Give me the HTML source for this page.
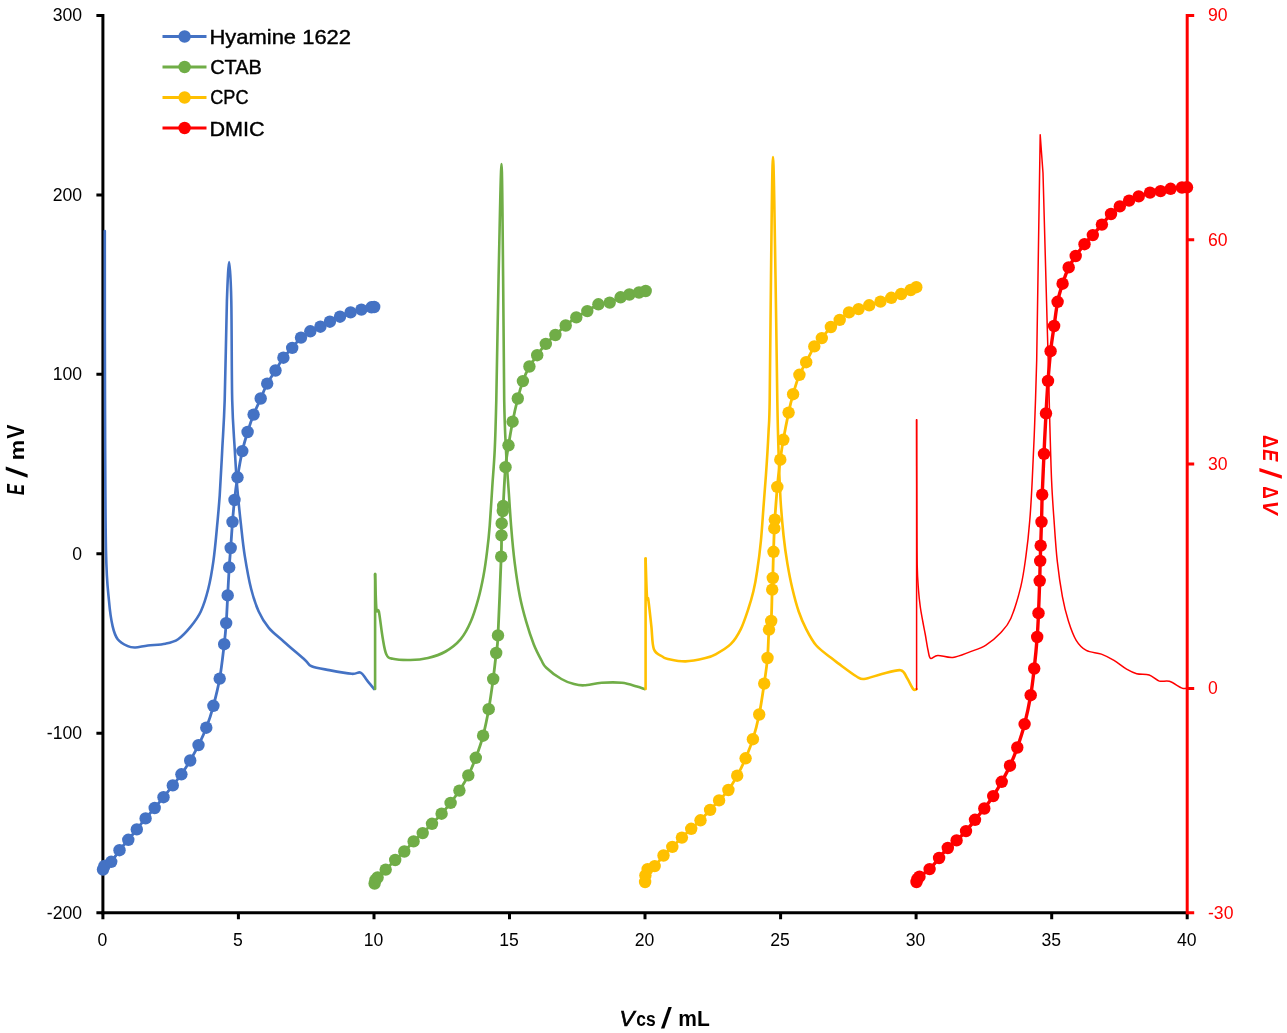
<!DOCTYPE html>
<html lang="en"><head><meta charset="utf-8"><title>Potentiometric titration curves</title>
<style>html,body{margin:0;padding:0;background:#fff}body{width:1287px;height:1033px;overflow:hidden}svg{display:block}text{font-family:"Liberation Sans",Arial,sans-serif}.tk{font-size:17.6px;fill:#000}.tr{font-size:17.6px;fill:#FF0000}.lg{font-size:19.8px;fill:#000}.ln{fill:none;stroke-linejoin:round;stroke-linecap:round}</style></head><body>
<svg width="1287" height="1033" viewBox="0 0 1287 1033">
<rect width="1287" height="1033" fill="#fff"/>
<g stroke="#000" stroke-width="3" fill="none">
<path d="M102.9 13.9V914.2"/>
<path d="M101.4 912.7H1187.2"/>
<path d="M96.4 15.4H102.9M96.4 194.9H102.9M96.4 374.3H102.9M96.4 553.8H102.9M96.4 733.2H102.9M96.4 912.7H102.9M102.9 912.7V919.2M238.4 912.7V919.2M374 912.7V919.2M509.5 912.7V919.2M645 912.7V919.2M780.6 912.7V919.2M916.1 912.7V919.2M1051.7 912.7V919.2M1187.2 912.7V919.2"/>
</g>
<g id="hyamine">
<path class="ln" d="M104.8 231C104.8 259.2 104.8 346.7 105 400C105.2 453.3 105.3 517.5 106 551C106.7 584.5 107.9 588.4 109 601C110.1 613.6 111.2 620.2 112.7 626.6C114.2 633 115.2 635.9 117.7 639.2C120.2 642.5 124.9 644.8 127.8 646.2C130.7 647.6 132 647.6 135.3 647.5C138.7 647.4 142.9 646.1 147.9 645.5C152.9 644.9 160.5 644.8 165.5 643.7C170.5 642.7 173.9 642.1 178.1 639.2C182.3 636.4 186.9 631.2 190.7 626.6C194.5 622 197.9 617.8 200.8 611.5C203.7 605.2 206.2 597.2 208.3 588.8C210.4 580.4 211.9 571.6 213.4 561.1C214.9 550.6 216.1 536.8 217.1 525.9C218.1 515 218.8 508.3 219.7 495.7C220.5 483.1 221.4 466.3 222.2 450.4C223 434.4 223.9 424.9 224.7 400C225.5 375.1 226.2 324 226.9 301C227.7 278 228.5 262 229.2 262C229.9 262 230.8 278 231.3 301C231.8 324 231.6 375.1 232.2 400C232.8 424.9 234 435.7 234.8 450.4C235.7 465.1 236.2 475.5 237.3 488.1C238.4 500.7 239.8 514.6 241.1 525.9C242.3 537.2 243.1 545.6 244.8 556.1C246.5 566.6 248.8 579.6 251.1 588.8C253.4 598 255.8 605 258.7 611.5C261.6 618 264.6 622.8 268.8 627.8C273 632.8 277.9 636.3 283.9 641.7C289.9 647.1 300.4 655.9 305 660C309.6 664.1 307.6 664.6 311.6 666.3C315.6 668 322.5 668.9 329.2 670.1C335.9 671.4 346.6 673.4 351.8 673.8C357 674.2 358.1 671.5 360.6 672.6C363.1 673.7 364.7 677.4 366.9 680.1C369.1 682.8 372.8 687.5 374 689" stroke="#4472C4" stroke-width="2.6"/>
<path class="ln" d="M103 869.5C103.2 868.9 103.1 867.3 104.5 866C105.9 864.7 108.7 864.4 111.2 861.8C113.7 859.2 116.7 853.9 119.5 850.2C122.3 846.5 125.4 843.3 128.3 839.8C131.2 836.3 133.9 833 136.8 829.4C139.7 825.8 142.6 822 145.6 818.4C148.6 814.8 151.7 811.5 154.7 808C157.7 804.5 160.5 801 163.5 797.2C166.5 793.4 169.8 789.2 172.8 785.4C175.8 781.6 178.5 778.4 181.4 774.3C184.3 770.1 187.3 765.4 190.2 760.5C193 755.6 195.8 750.6 198.5 745.1C201.2 739.6 203.8 734.2 206.3 727.7C208.8 721.2 211.2 714 213.4 705.8C215.6 697.6 217.9 688.9 219.7 678.6C221.5 668.3 223.1 653.5 224.2 644.2C225.3 635 225.6 631.2 226.2 623.1C226.8 615 227.2 604.7 227.7 595.4C228.2 586.1 228.7 575.3 229.2 567.4C229.7 559.5 230.1 555.6 230.7 548C231.2 540.4 231.9 529.9 232.5 521.9C233.1 513.9 233.7 507.4 234.5 500C235.3 492.6 236.2 485.4 237.5 477.3C238.8 469.2 240.6 458.7 242.3 451.1C244 443.6 245.7 438.1 247.6 432C249.5 425.9 251.4 420.2 253.6 414.6C255.8 409 258.4 403.7 260.7 398.5C263 393.3 264.7 388.3 267.2 383.6C269.7 378.9 272.8 374.8 275.5 370.5C278.2 366.2 280.6 361.5 283.4 357.7C286.2 353.9 289.3 351.2 292.2 347.9C295.1 344.5 298 340.4 301 337.6C304 334.8 307.1 333.1 310.3 331.3C313.5 329.5 317.1 328.3 320.4 326.7C323.7 325.1 326.6 323.4 329.9 321.7C333.2 320 336.6 318.2 340 316.7C343.4 315.1 347 313.6 350.6 312.4C354.2 311.2 357.9 310.5 361.4 309.6C364.9 308.8 369.4 307.7 371.5 307.3C373.6 306.9 373.8 307.1 374.2 307" stroke="#4472C4" stroke-width="2.8"/>
<g fill="#4472C4"><circle cx="103" cy="869.5" r="6.2"/><circle cx="104.5" cy="866" r="6.2"/><circle cx="111.2" cy="861.8" r="6.2"/><circle cx="119.5" cy="850.2" r="6.2"/><circle cx="128.3" cy="839.8" r="6.2"/><circle cx="136.8" cy="829.4" r="6.2"/><circle cx="145.6" cy="818.4" r="6.2"/><circle cx="154.7" cy="808" r="6.2"/><circle cx="163.5" cy="797.2" r="6.2"/><circle cx="172.8" cy="785.4" r="6.2"/><circle cx="181.4" cy="774.3" r="6.2"/><circle cx="190.2" cy="760.5" r="6.2"/><circle cx="198.5" cy="745.1" r="6.2"/><circle cx="206.3" cy="727.7" r="6.2"/><circle cx="213.4" cy="705.8" r="6.2"/><circle cx="219.7" cy="678.6" r="6.2"/><circle cx="224.2" cy="644.2" r="6.2"/><circle cx="226.2" cy="623.1" r="6.2"/><circle cx="227.7" cy="595.4" r="6.2"/><circle cx="229.2" cy="567.4" r="6.2"/><circle cx="230.7" cy="548" r="6.2"/><circle cx="232.5" cy="521.9" r="6.2"/><circle cx="234.5" cy="500" r="6.2"/><circle cx="237.5" cy="477.3" r="6.2"/><circle cx="242.3" cy="451.1" r="6.2"/><circle cx="247.6" cy="432" r="6.2"/><circle cx="253.6" cy="414.6" r="6.2"/><circle cx="260.7" cy="398.5" r="6.2"/><circle cx="267.2" cy="383.6" r="6.2"/><circle cx="275.5" cy="370.5" r="6.2"/><circle cx="283.4" cy="357.7" r="6.2"/><circle cx="292.2" cy="347.9" r="6.2"/><circle cx="301" cy="337.6" r="6.2"/><circle cx="310.3" cy="331.3" r="6.2"/><circle cx="320.4" cy="326.7" r="6.2"/><circle cx="329.9" cy="321.7" r="6.2"/><circle cx="340" cy="316.7" r="6.2"/><circle cx="350.6" cy="312.4" r="6.2"/><circle cx="361.4" cy="309.6" r="6.2"/><circle cx="371.5" cy="307.3" r="6.2"/><circle cx="374.2" cy="307" r="6.2"/></g>
</g>
<g id="ctab">
<path class="ln" d="M375.1 689L375.1 574" stroke="#70AD47" stroke-width="2.6"/>
<path class="ln" d="M375.1 574C375.3 579.8 375.8 602.8 376.4 609C377 615.2 377.8 606.7 378.9 611.5C379.9 616.3 381.4 630.8 382.7 638C383.9 645.2 384.7 651 386.4 654.5C388.1 658 388.7 657.9 392.7 658.8C396.7 659.7 404.5 660.1 410.4 660C416.3 659.9 422.1 659.4 428 658C433.9 656.6 440.2 654.6 445.6 651.5C451.1 648.4 456.5 644.2 460.7 639.2C464.9 634.2 467.9 628.3 470.8 621.6C473.7 614.9 476.2 606.5 478.3 598.9C480.4 591.3 481.9 584.2 483.4 576.2C484.9 568.2 486.1 559.5 487.1 551.1C488.2 542.7 488.9 536.4 489.7 525.9C490.5 515.4 491.4 500.7 492.2 488.1C493 475.5 494 465.1 494.7 450.4C495.4 435.7 495.6 429.1 496.3 400C497 370.9 497.7 315.3 498.6 276C499.5 236.7 500.8 164 501.5 164C502.2 164 502.7 236.7 503.1 276C503.6 315.3 503.7 370.9 504.2 400C504.7 429.1 505.3 435.7 506 450.4C506.7 465.1 507.6 475.5 508.5 488.1C509.4 500.7 510.1 513.3 511.1 525.9C512.1 538.5 513.3 551.9 514.8 563.6C516.3 575.4 518 586.7 519.9 596.4C521.8 606.1 523.9 613.6 526.2 621.6C528.5 629.6 531.2 637.8 533.7 644.2C536.2 650.6 539.2 656.1 541.3 660C543.4 663.9 542.9 664.5 546.3 667.7C549.6 670.9 556.8 676.3 561.4 679C566 681.7 570.2 683.1 574 684.1C577.8 685.1 579.5 685.5 584.1 685.3C588.7 685.1 595.4 683.2 601.7 682.8C608 682.4 615.9 682.2 621.8 682.8C627.7 683.4 633.1 685.5 636.9 686.6C640.7 687.7 643.2 688.7 644.5 689.1" stroke="#70AD47" stroke-width="2.6"/>
<path class="ln" d="M374.6 883.5C374.8 882.9 375 881 375.5 880C376 879 375.9 879.2 377.6 877.5C379.3 875.8 382.8 872.5 385.7 869.6C388.6 866.7 392.1 863 395.2 860C398.3 857 401.2 854.6 404.3 851.5C407.4 848.4 410.5 844.5 413.6 841.4C416.7 838.3 419.6 836 422.7 833.1C425.8 830.2 428.9 827 432 823.8C435.1 820.6 438.5 817.2 441.6 813.7C444.7 810.2 447.6 806.8 450.6 802.9C453.6 799 456.4 795.2 459.4 790.6C462.3 786 465.6 780.9 468.3 775.4C471 769.9 473.3 764.4 475.8 757.8C478.3 751.2 481 743.8 483.1 735.7C485.2 727.6 487 718.7 488.7 709.2C490.4 699.8 491.9 688.4 493.2 679C494.4 669.6 495.4 660.3 496.2 653C497 645.7 497.2 651.5 498 635.4C498.8 619.3 500.6 573.3 501.2 556.6C501.8 539.9 501.4 540.9 501.5 535.4C501.6 529.9 501.5 527.5 501.7 523.4C501.9 519.3 502.6 513.9 502.8 511C503.1 508.1 502.8 513.3 503.2 506C503.6 498.7 504.6 477.3 505.5 467.2C506.4 457.1 507.3 452.9 508.5 445.3C509.7 437.7 511.1 429.5 512.6 421.7C514.1 413.9 516.1 405.3 517.8 398.5C519.5 391.7 521 386.4 522.9 381.1C524.8 375.8 527 370.8 529.4 366.5C531.8 362.2 534.5 359 537.2 355.2C539.9 351.4 542.8 347.3 545.8 343.9C548.8 340.5 552.1 338.1 555.4 335C558.7 331.9 562.2 328.4 565.7 325.5C569.2 322.6 572.7 319.8 576.3 317.4C579.9 315 583.6 313.3 587.3 311.1C591 308.9 594.7 305.7 598.4 304.3C602.1 302.9 606 303.8 609.7 302.6C613.4 301.4 617.3 298.7 620.6 297.3C623.9 295.9 626.3 295.3 629.4 294.5C632.5 293.7 636.3 293.1 639 292.5C641.7 291.9 644.6 291.2 645.7 291" stroke="#70AD47" stroke-width="2.8"/>
<g fill="#70AD47"><circle cx="374.6" cy="883.5" r="6.2"/><circle cx="375.5" cy="880" r="6.2"/><circle cx="377.6" cy="877.5" r="6.2"/><circle cx="385.7" cy="869.6" r="6.2"/><circle cx="395.2" cy="860" r="6.2"/><circle cx="404.3" cy="851.5" r="6.2"/><circle cx="413.6" cy="841.4" r="6.2"/><circle cx="422.7" cy="833.1" r="6.2"/><circle cx="432" cy="823.8" r="6.2"/><circle cx="441.6" cy="813.7" r="6.2"/><circle cx="450.6" cy="802.9" r="6.2"/><circle cx="459.4" cy="790.6" r="6.2"/><circle cx="468.3" cy="775.4" r="6.2"/><circle cx="475.8" cy="757.8" r="6.2"/><circle cx="483.1" cy="735.7" r="6.2"/><circle cx="488.7" cy="709.2" r="6.2"/><circle cx="493.2" cy="679" r="6.2"/><circle cx="496.2" cy="653" r="6.2"/><circle cx="498" cy="635.4" r="6.2"/><circle cx="501.2" cy="556.6" r="6.2"/><circle cx="501.5" cy="535.4" r="6.2"/><circle cx="501.7" cy="523.4" r="6.2"/><circle cx="502.8" cy="511" r="6.2"/><circle cx="503.2" cy="506" r="6.2"/><circle cx="505.5" cy="467.2" r="6.2"/><circle cx="508.5" cy="445.3" r="6.2"/><circle cx="512.6" cy="421.7" r="6.2"/><circle cx="517.8" cy="398.5" r="6.2"/><circle cx="522.9" cy="381.1" r="6.2"/><circle cx="529.4" cy="366.5" r="6.2"/><circle cx="537.2" cy="355.2" r="6.2"/><circle cx="545.8" cy="343.9" r="6.2"/><circle cx="555.4" cy="335" r="6.2"/><circle cx="565.7" cy="325.5" r="6.2"/><circle cx="576.3" cy="317.4" r="6.2"/><circle cx="587.3" cy="311.1" r="6.2"/><circle cx="598.4" cy="304.3" r="6.2"/><circle cx="609.7" cy="302.6" r="6.2"/><circle cx="620.6" cy="297.3" r="6.2"/><circle cx="629.4" cy="294.5" r="6.2"/><circle cx="639" cy="292.5" r="6.2"/><circle cx="645.7" cy="291" r="6.2"/></g>
</g>
<g id="cpc">
<path class="ln" d="M645.6 689L645.6 558.6" stroke="#FFC000" stroke-width="2.6"/>
<path class="ln" d="M645.6 558.6C645.8 565 646.5 590.2 647 597C647.5 603.8 647.6 594.6 648.3 599.5C649 604.4 650.5 618.3 651.4 626.6C652.3 634.9 652 644.2 653.9 649.2C655.8 654.2 660.4 655.2 662.7 656.8C665 658.4 664 658.1 667.8 658.9C671.6 659.7 679.1 661.5 685.4 661.4C691.7 661.3 700.5 659.3 705.5 658.1C710.5 656.9 711.4 656.6 715.6 654.3C719.8 652 726.5 648.4 730.7 644.2C734.9 640 737.9 635 740.8 629.1C743.7 623.2 746.2 615.3 748.3 609C750.4 602.7 751.9 597.6 753.4 591.3C754.9 585 755.9 579.6 757.1 571.2C758.4 562.8 759.9 551.5 760.9 541C761.9 530.5 762.6 519.2 763.4 508.3C764.2 497.4 765 488.1 765.9 475.5C766.8 462.9 767.9 445.3 768.5 432.7C769.1 420.1 769.3 426.1 769.7 400C770.1 373.9 770.5 316.5 771 276C771.5 235.5 772.2 157 773 157C773.8 157 774.8 235.5 775.5 276C776.2 316.5 776.8 370.9 777.3 400C777.8 429.1 778 433.6 778.5 450.4C779 467.2 779.8 486.4 780.6 500.7C781.5 515 782.5 525.5 783.6 536C784.7 546.5 785.9 554.8 787.4 563.6C788.9 572.4 790.5 580.8 792.4 588.8C794.3 596.8 796.4 604.8 798.7 611.5C801 618.2 803.3 623.4 806.2 629.1C809.1 634.8 812.1 640.7 816.3 645.5C820.5 650.3 827.6 655 831.4 658.1C835.2 661.2 834.8 660.8 839 663.9C843.2 667 852.4 674 856.6 676.5C860.8 679 859.9 679.4 864.1 679C868.3 678.6 875.7 675.5 881.8 674C887.9 672.5 896.4 669.6 900.6 670.2C904.8 670.8 904.8 674.6 906.9 677.8C909 680.9 911.6 687.2 913.2 689.1C914.8 691 916 689.1 916.5 689.1" stroke="#FFC000" stroke-width="2.6"/>
<path class="ln" d="M645.1 882C645.1 880.9 645 877.5 645.4 875.4C645.8 873.2 646 870.6 647.6 869.1C649.2 867.6 652.1 868.4 654.7 866.1C657.4 863.8 660.6 858.7 663.5 855.5C666.4 852.3 669.2 849.9 672.3 846.9C675.4 843.9 678.8 840.6 681.9 837.6C685 834.6 688.1 831.7 691.2 828.8C694.3 825.9 697.4 823.4 700.5 820.3C703.6 817.1 707 813.2 710.1 809.9C713.2 806.6 716.1 803.7 719.1 800.4C722.1 797.1 725.4 794.1 728.4 790C731.4 785.9 734.3 781 737.2 775.7C740.1 770.4 743 764.4 745.6 758.3C748.2 752.2 750.6 746.5 752.9 739.2C755.2 731.9 757.3 723.8 759.2 714.5C761.1 705.2 762.8 693 764.2 683.6C765.6 674.2 766.7 667 767.5 658C768.3 649 768.4 635.8 769 629.6C769.6 623.4 770.7 627.7 771.2 621C771.7 614.3 771.9 596.8 772.2 589.6C772.5 582.4 772.6 584.3 772.8 578C773 571.7 773.2 560.1 773.5 551.8C773.8 543.5 774.1 533.8 774.3 528.4C774.5 523 774.3 526.5 774.8 519.6C775.3 512.7 776.4 496.9 777.3 486.9C778.2 476.9 779.3 467.5 780.3 459.7C781.3 451.9 781.9 447.6 783.3 439.8C784.7 432 787 420.2 788.6 412.6C790.2 405 791.3 400.5 793.1 394.2C794.9 387.9 797.2 380.1 799.4 374.8C801.6 369.5 803.7 366.9 806.2 362.2C808.7 357.5 811.7 350.4 814.3 346.4C816.9 342.4 819 341.3 821.8 338.1C824.6 334.9 827.9 330 830.9 327C833.9 324 836.7 322.3 839.7 319.9C842.7 317.5 845.9 314.2 849 312.4C852.1 310.6 855.2 310.3 858.6 309.1C862 307.9 865.6 306.6 869.2 305.3C872.9 304.1 876.8 302.9 880.5 301.6C884.2 300.4 887.8 299.1 891.3 297.8C894.8 296.5 898 295.3 901.2 294C904.4 292.7 908.2 291.1 910.7 290C913.2 288.9 915.4 287.7 916.3 287.2" stroke="#FFC000" stroke-width="2.8"/>
<g fill="#FFC000"><circle cx="645.1" cy="882" r="6.2"/><circle cx="645.4" cy="875.4" r="6.2"/><circle cx="647.6" cy="869.1" r="6.2"/><circle cx="654.7" cy="866.1" r="6.2"/><circle cx="663.5" cy="855.5" r="6.2"/><circle cx="672.3" cy="846.9" r="6.2"/><circle cx="681.9" cy="837.6" r="6.2"/><circle cx="691.2" cy="828.8" r="6.2"/><circle cx="700.5" cy="820.3" r="6.2"/><circle cx="710.1" cy="809.9" r="6.2"/><circle cx="719.1" cy="800.4" r="6.2"/><circle cx="728.4" cy="790" r="6.2"/><circle cx="737.2" cy="775.7" r="6.2"/><circle cx="745.6" cy="758.3" r="6.2"/><circle cx="752.9" cy="739.2" r="6.2"/><circle cx="759.2" cy="714.5" r="6.2"/><circle cx="764.2" cy="683.6" r="6.2"/><circle cx="767.5" cy="658" r="6.2"/><circle cx="769" cy="629.6" r="6.2"/><circle cx="771.2" cy="621" r="6.2"/><circle cx="772.2" cy="589.6" r="6.2"/><circle cx="772.8" cy="578" r="6.2"/><circle cx="773.5" cy="551.8" r="6.2"/><circle cx="774.3" cy="528.4" r="6.2"/><circle cx="774.8" cy="519.6" r="6.2"/><circle cx="777.3" cy="486.9" r="6.2"/><circle cx="780.3" cy="459.7" r="6.2"/><circle cx="783.3" cy="439.8" r="6.2"/><circle cx="788.6" cy="412.6" r="6.2"/><circle cx="793.1" cy="394.2" r="6.2"/><circle cx="799.4" cy="374.8" r="6.2"/><circle cx="806.2" cy="362.2" r="6.2"/><circle cx="814.3" cy="346.4" r="6.2"/><circle cx="821.8" cy="338.1" r="6.2"/><circle cx="830.9" cy="327" r="6.2"/><circle cx="839.7" cy="319.9" r="6.2"/><circle cx="849" cy="312.4" r="6.2"/><circle cx="858.6" cy="309.1" r="6.2"/><circle cx="869.2" cy="305.3" r="6.2"/><circle cx="880.5" cy="301.6" r="6.2"/><circle cx="891.3" cy="297.8" r="6.2"/><circle cx="901.2" cy="294" r="6.2"/><circle cx="910.7" cy="290" r="6.2"/><circle cx="916.3" cy="287.2" r="6.2"/></g>
</g>
<g id="dmic">
<path class="ln" d="M916.6 689.4L916.6 419.7" stroke="#FF0000" stroke-width="1.5"/>
<path class="ln" d="M916.6 419.7C916.6 433.1 916.7 475.8 916.8 500C916.9 524.2 916.9 550 917.2 565C917.5 580 918 583 918.5 590C919 597 919.6 601.8 920.3 607C921 612.2 921.9 616.5 922.7 621C923.5 625.5 924.3 629.2 925.2 634C926.1 638.8 927.1 645.9 928 650C928.9 654.1 929 657.5 930.6 658.4C932.2 659.3 934.1 655.6 937.8 655.4C941.5 655.2 947.4 658 952.9 657.4C958.4 656.8 965 653.6 970.5 651.6C976 649.6 980.6 648.4 985.6 645.3C990.6 642.1 996.5 637.2 1000.7 632.7C1004.9 628.2 1007.4 626.2 1010.8 618.5C1014.1 610.8 1018.3 597 1020.8 586.6C1023.3 576.2 1024.4 567.3 1025.9 556.4C1027.4 545.5 1028.7 533.7 1029.7 521.1C1030.8 508.5 1031.4 497.2 1032.2 480.8C1033 464.4 1034 443 1034.7 422.9C1035.5 402.8 1036.4 370.5 1036.7 360L1040.2 134.7L1043 173L1047.3 329L1048.5 370C1048.7 378.8 1049.3 404.4 1049.8 422.9C1050.3 441.4 1050.9 464.4 1051.6 480.8C1052.3 497.2 1053.1 507.7 1054.1 521.1C1055 534.5 1055.9 548.8 1057.3 561.4C1058.7 574 1060.6 586.8 1062.4 596.7C1064.2 606.6 1066.1 613.7 1068.4 621C1070.7 628.3 1073.2 635.4 1076.2 640.3C1079.2 645.2 1082.1 648.1 1086.3 650.4C1090.5 652.7 1096.8 652.4 1101.4 654.1C1106 655.8 1109.8 657.9 1114 660.4C1118.2 662.9 1122.8 667 1126.6 669.2C1130.4 671.4 1132.9 672.8 1136.7 673.8C1140.5 674.8 1145.4 673.8 1149.2 675C1153 676.2 1155.9 680.1 1159.3 681.1C1162.7 682.1 1165.6 680.1 1169.4 681.3C1173.2 682.5 1179.1 687 1182 688.1C1184.9 689.2 1186.2 688.1 1187 688.1" stroke="#FF0000" stroke-width="1.5" stroke-linejoin="miter"/>
<path class="ln" d="M916.5 882C916.7 881.5 917 879.9 917.5 879C918 878.1 917.5 878.4 919.5 876.7C921.5 875.1 926.3 872.2 929.6 869.1C932.9 866 936.1 861.5 939.1 858C942.1 854.5 944.9 850.9 947.8 848C950.7 845.1 953.6 843.2 956.6 840.4C959.6 837.6 962.9 834.5 966 831.1C969.1 827.7 972 823.6 975 819.8C978 816 981.3 812.5 984.3 808.5C987.3 804.5 990.3 800.6 993.2 796.1C996.1 791.6 998.9 786.9 1001.7 781.8C1004.5 776.7 1007.4 771.4 1010 765.7C1012.6 760 1014.9 754.4 1017.3 747.5C1019.7 740.6 1022.4 732.8 1024.6 724.1C1026.8 715.4 1029.1 704.5 1030.7 695.2C1032.3 685.9 1033.1 678.2 1034.2 668.5C1035.3 658.8 1036.5 646.2 1037.2 637C1037.9 627.8 1038.1 622.6 1038.5 613.2C1038.9 603.8 1039.4 589.5 1039.7 580.8C1040 572.1 1040 566.8 1040.2 560.9C1040.4 555 1040.5 552.1 1040.7 545.6C1040.9 539.1 1041.2 530.4 1041.5 521.9C1041.8 513.4 1041.8 506 1042.2 494.7C1042.6 483.4 1043.4 467.4 1044 453.9C1044.6 440.3 1045.3 425.6 1046 413.4C1046.7 401.2 1047.2 391.3 1048 380.9C1048.8 370.5 1049.6 360.3 1050.6 351.2C1051.6 342.1 1052.9 334.2 1054.1 326C1055.3 317.8 1056.2 308.9 1057.6 301.8C1059 294.8 1060.8 289.4 1062.6 283.7C1064.4 278 1066.5 272 1068.7 267.4C1070.9 262.8 1073.1 259.9 1075.7 256C1078.3 252.1 1081.7 247.7 1084.5 244.2C1087.3 240.7 1089.9 238.4 1092.8 235.1C1095.7 231.8 1098.9 228.1 1101.9 224.6C1104.9 221.1 1108 217 1111 214C1114 211 1116.8 208.6 1119.8 206.4C1122.8 204.2 1125.9 202.3 1129.1 200.6C1132.2 198.9 1135.2 197.7 1138.7 196.4C1142.2 195.1 1146.3 193.5 1150 192.6C1153.7 191.7 1157.2 191.7 1160.6 191.1C1164 190.5 1167 189.4 1170.6 188.8C1174.2 188.2 1179.3 187.8 1182 187.5C1184.7 187.2 1186.2 187.3 1187 187.3" stroke="#FF0000" stroke-width="3.4"/>
<g fill="#FF0000"><circle cx="916.5" cy="882" r="6.2"/><circle cx="917.5" cy="879" r="6.2"/><circle cx="919.5" cy="876.7" r="6.2"/><circle cx="929.6" cy="869.1" r="6.2"/><circle cx="939.1" cy="858" r="6.2"/><circle cx="947.8" cy="848" r="6.2"/><circle cx="956.6" cy="840.4" r="6.2"/><circle cx="966" cy="831.1" r="6.2"/><circle cx="975" cy="819.8" r="6.2"/><circle cx="984.3" cy="808.5" r="6.2"/><circle cx="993.2" cy="796.1" r="6.2"/><circle cx="1001.7" cy="781.8" r="6.2"/><circle cx="1010" cy="765.7" r="6.2"/><circle cx="1017.3" cy="747.5" r="6.2"/><circle cx="1024.6" cy="724.1" r="6.2"/><circle cx="1030.7" cy="695.2" r="6.2"/><circle cx="1034.2" cy="668.5" r="6.2"/><circle cx="1037.2" cy="637" r="6.2"/><circle cx="1038.5" cy="613.2" r="6.2"/><circle cx="1039.7" cy="580.8" r="6.2"/><circle cx="1040.2" cy="560.9" r="6.2"/><circle cx="1040.7" cy="545.6" r="6.2"/><circle cx="1041.5" cy="521.9" r="6.2"/><circle cx="1042.2" cy="494.7" r="6.2"/><circle cx="1044" cy="453.9" r="6.2"/><circle cx="1046" cy="413.4" r="6.2"/><circle cx="1048" cy="380.9" r="6.2"/><circle cx="1050.6" cy="351.2" r="6.2"/><circle cx="1054.1" cy="326" r="6.2"/><circle cx="1057.6" cy="301.8" r="6.2"/><circle cx="1062.6" cy="283.7" r="6.2"/><circle cx="1068.7" cy="267.4" r="6.2"/><circle cx="1075.7" cy="256" r="6.2"/><circle cx="1084.5" cy="244.2" r="6.2"/><circle cx="1092.8" cy="235.1" r="6.2"/><circle cx="1101.9" cy="224.6" r="6.2"/><circle cx="1111" cy="214" r="6.2"/><circle cx="1119.8" cy="206.4" r="6.2"/><circle cx="1129.1" cy="200.6" r="6.2"/><circle cx="1138.7" cy="196.4" r="6.2"/><circle cx="1150" cy="192.6" r="6.2"/><circle cx="1160.6" cy="191.1" r="6.2"/><circle cx="1170.6" cy="188.8" r="6.2"/><circle cx="1182" cy="187.5" r="6.2"/><circle cx="1187" cy="187.3" r="6.2"/></g>
</g>
<g stroke="#FF0000" stroke-width="3" fill="none">
<path d="M1187.2 13.9V914.2"/>
<path d="M1187.2 15.4H1194.2M1187.2 239.7H1194.2M1187.2 464.1H1194.2M1187.2 688.4H1194.2M1187.2 912.7H1194.2"/>
</g>
<text class="tk" x="82" y="21.3" text-anchor="end">300</text>
<text class="tk" x="82" y="200.8" text-anchor="end">200</text>
<text class="tk" x="82" y="380.2" text-anchor="end">100</text>
<text class="tk" x="82" y="559.7" text-anchor="end">0</text>
<text class="tk" x="82" y="739.1" text-anchor="end">-100</text>
<text class="tk" x="82" y="918.6" text-anchor="end">-200</text>
<text class="tk" x="102.4" y="946.3" text-anchor="middle">0</text>
<text class="tk" x="237.9" y="946.3" text-anchor="middle">5</text>
<text class="tk" x="373.5" y="946.3" text-anchor="middle">10</text>
<text class="tk" x="509" y="946.3" text-anchor="middle">15</text>
<text class="tk" x="644.5" y="946.3" text-anchor="middle">20</text>
<text class="tk" x="780.1" y="946.3" text-anchor="middle">25</text>
<text class="tk" x="915.6" y="946.3" text-anchor="middle">30</text>
<text class="tk" x="1051.2" y="946.3" text-anchor="middle">35</text>
<text class="tk" x="1186.7" y="946.3" text-anchor="middle">40</text>
<text class="tr" x="1208" y="21.3">90</text>
<text class="tr" x="1208" y="245.6">60</text>
<text class="tr" x="1208" y="469.9">30</text>
<text class="tr" x="1208" y="694.3">0</text>
<text class="tr" x="1208" y="918.6">-30</text>
<text transform="translate(619.48 1025.80) scale(0.2246 0.2290)" font-size="100" font-weight="normal" font-style="italic" fill="#000" stroke="#000" stroke-width="3">V</text>
<text transform="translate(636.20 1025.69) scale(0.1748 0.2073)" font-size="100" font-weight="bold" font-style="normal" fill="#000">cs</text>
<text transform="translate(660.85 1028.21) scale(0.2905 0.2905) skewX(-8.85)" font-size="100" font-weight="bold" font-style="normal" fill="#000">/</text>
<text transform="translate(678.23 1025.80) scale(0.2100 0.2232)" font-size="100" font-weight="bold" font-style="normal" fill="#000">mL</text>
<text transform="translate(24.00 495.03) rotate(-90) scale(0.1627 0.2319)" font-size="100" font-weight="bold" font-style="italic" fill="#000">E</text>
<text transform="translate(26.51 477.94) rotate(-90) scale(0.2932 0.2932) skewX(-9.61)" font-size="100" font-weight="bold" font-style="normal" fill="#000">/</text>
<text transform="translate(24.00 460.21) rotate(-90) scale(0.2303 0.2019)" font-size="100" font-weight="bold" font-style="normal" fill="#000">m</text>
<text transform="translate(24.00 438.71) rotate(-90) scale(0.2138 0.2319)" font-size="100" font-weight="bold" font-style="normal" fill="#000">V</text>
<text transform="translate(1263.00 434.97) rotate(90) scale(0.1813 0.2232)" font-size="100" font-weight="bold" font-style="normal" fill="#FF0000">Δ</text>
<text transform="translate(1263.00 449.34) rotate(90) scale(0.1806 0.2232)" font-size="100" font-weight="bold" font-style="italic" fill="#FF0000">E</text>
<text transform="translate(1260.40 467.84) rotate(90) scale(0.3014 0.3014) skewX(-7.32)" font-size="100" font-weight="bold" font-style="normal" fill="#FF0000">/</text>
<text transform="translate(1263.00 486.31) rotate(90) scale(0.1734 0.2232)" font-size="100" font-weight="bold" font-style="normal" fill="#FF0000">Δ</text>
<text transform="translate(1263.00 500.84) rotate(90) scale(0.2077 0.2232)" font-size="100" font-weight="bold" font-style="italic" fill="#FF0000">V</text>
<path d="M162.5 36.5H206.5" stroke="#4472C4" stroke-width="3" fill="none"/><circle cx="184.6" cy="36.5" r="6.2" fill="#4472C4"/>
<text transform="translate(209.44 44.10) scale(0.2196 0.2000)" font-size="100" font-weight="normal" font-style="normal" fill="#000" stroke="#000" stroke-width="2">Hyamine 1622</text>
<path d="M162.5 67H206.5" stroke="#70AD47" stroke-width="3" fill="none"/><circle cx="184.6" cy="67" r="6.2" fill="#70AD47"/>
<text transform="translate(210.20 73.80) scale(0.1992 0.2000)" font-size="100" font-weight="normal" font-style="normal" fill="#000" stroke="#000" stroke-width="2">CTAB</text>
<path d="M162.5 97.5H206.5" stroke="#FFC000" stroke-width="3" fill="none"/><circle cx="184.6" cy="97.5" r="6.2" fill="#FFC000"/>
<text transform="translate(210.29 104.20) scale(0.1812 0.2000)" font-size="100" font-weight="normal" font-style="normal" fill="#000" stroke="#000" stroke-width="2">CPC</text>
<path d="M162.5 128H206.5" stroke="#FF0000" stroke-width="3" fill="none"/><circle cx="184.6" cy="128" r="6.2" fill="#FF0000"/>
<text transform="translate(209.47 135.50) scale(0.2160 0.2028)" font-size="100" font-weight="normal" font-style="normal" fill="#000" stroke="#000" stroke-width="2">DMIC</text>
</svg></body></html>
